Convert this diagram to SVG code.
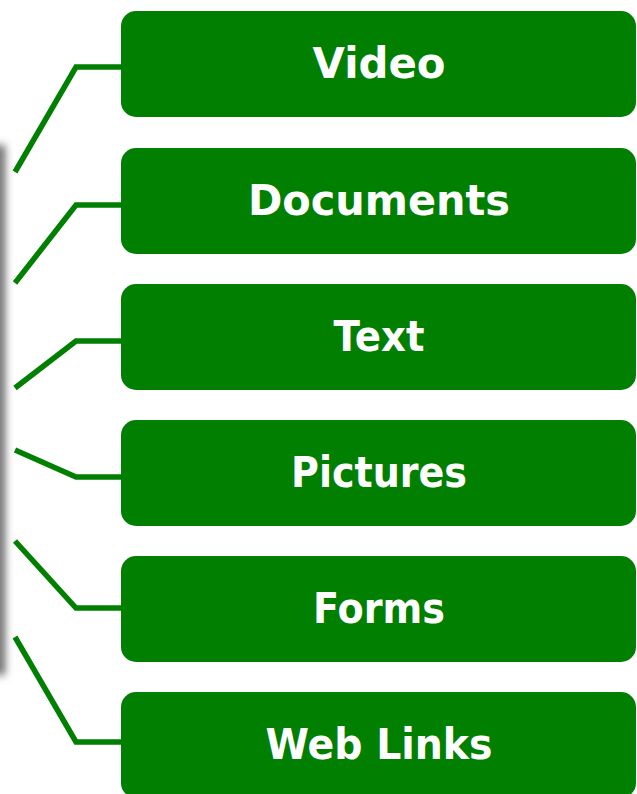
<svg xmlns="http://www.w3.org/2000/svg" width="637" height="794" viewBox="0 0 637 794">
<style>
.box{fill:#007f00}
.lbl{fill:#ffffff;font-family:"DejaVu Sans",sans-serif;font-weight:bold;font-size:42px;text-anchor:middle}
.con{fill:none;stroke:#007f00;stroke-width:5.5;stroke-linejoin:miter}
</style>
<defs>
<filter id="blur" x="-2" y="-0.2" width="5" height="1.4"><feGaussianBlur stdDeviation="4"/></filter>
</defs>
<rect x="-6" y="145" width="11" height="530" fill="#666" filter="url(#blur)"/>
<g id="connectors">
<polyline class="con" points="15,172 76,67 122,67"/>
<polyline class="con" points="15,283 76,205 122,205"/>
<polyline class="con" points="15,388 76,341 122,341"/>
<polyline class="con" points="15,450 76,477 122,477"/>
<polyline class="con" points="15,541 76,608 122,608"/>
<polyline class="con" points="15,637 76,742 122,742"/>
</g>
<g id="video"><rect class="box" x="121" y="11" width="515" height="106" rx="15"/><text class="lbl" x="379" y="78" textLength="133" lengthAdjust="spacingAndGlyphs">Video</text></g>
<g id="documents"><rect class="box" x="121" y="148" width="515" height="106" rx="15"/><text class="lbl" x="379" y="215" textLength="262" lengthAdjust="spacingAndGlyphs">Documents</text></g>
<g id="text"><rect class="box" x="121" y="284" width="515" height="106" rx="15"/><text class="lbl" x="379" y="351" textLength="91" lengthAdjust="spacingAndGlyphs">Text</text></g>
<g id="pictures"><rect class="box" x="121" y="420" width="515" height="106" rx="15"/><text class="lbl" x="379" y="487" textLength="176" lengthAdjust="spacingAndGlyphs">Pictures</text></g>
<g id="forms"><rect class="box" x="121" y="556" width="515" height="106" rx="15"/><text class="lbl" x="379" y="623" textLength="132" lengthAdjust="spacingAndGlyphs">Forms</text></g>
<g id="weblinks"><rect class="box" x="121" y="692" width="515" height="106" rx="15"/><text class="lbl" x="379" y="759" textLength="227" lengthAdjust="spacingAndGlyphs">Web Links</text></g>
</svg>
